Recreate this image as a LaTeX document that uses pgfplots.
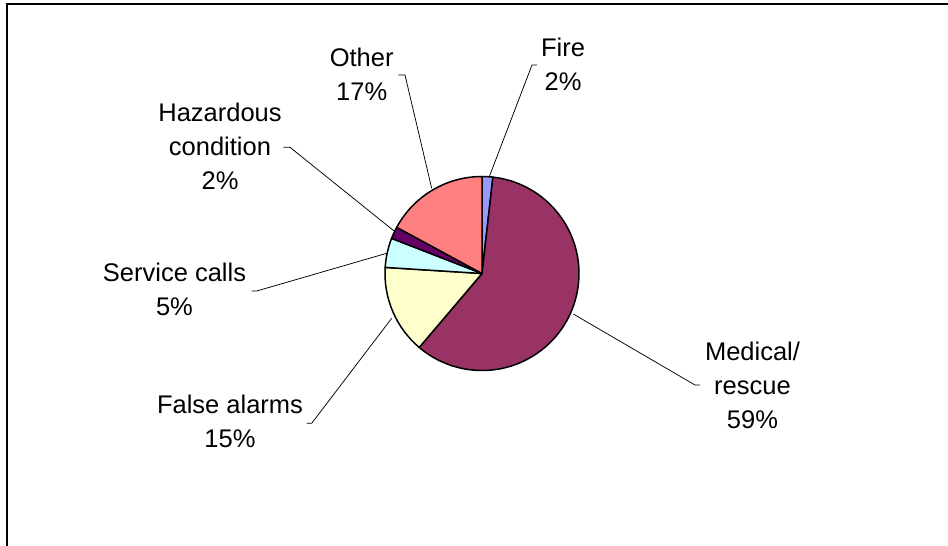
\documentclass[border=0pt]{standalone}
\usepackage{pgfplots}
\pgfplotsset{compat=1.18}
\usepackage{fontspec}
\setmainfont{Liberation Sans}
\definecolor{cFire}{HTML}{9999FF}
\definecolor{cMed}{HTML}{993366}
\definecolor{cFalse}{HTML}{FFFFCC}
\definecolor{cServ}{HTML}{CCFFFF}
\definecolor{cHaz}{HTML}{660066}
\definecolor{cOther}{HTML}{FF8080}
% slice: start percentage, share in percent, colour (clockwise from 12 o'clock)
\newcommand\slice[3]{%
  \filldraw[fill=#3, draw=black, line width=1.5bp, line join=round]
    (axis cs:482,272.5) -- ++({90-3.6*(#1)}:97bp)
    arc[start angle={90-3.6*(#1)}, end angle={90-3.6*((#1)+(#2))}, radius=97bp] -- cycle;}
\begin{document}
\begin{tikzpicture}
\begin{axis}[at={(0,0)}, anchor=south west, scale only axis,
  x=1bp, y=1bp, xmin=0, xmax=948, ymin=0, ymax=546, hide axis, clip=false]
% frame
\draw[line width=1.75bp] (axis cs:6.8,0) -- (axis cs:6.8,541.8) -- (axis cs:948,541.8);
% slices: Fire 1.8, Medical 59.4, False alarms 14.8, Service 4.9, Hazardous 2.0, Other 17.1
\slice{0}{1.8}{cFire}
\slice{1.8}{59.4}{cMed}
\slice{61.2}{14.8}{cFalse}
\slice{76.0}{4.9}{cServ}
\slice{80.9}{2.0}{cHaz}
\slice{82.9}{17.1}{cOther}
% leader lines
\begin{scope}[line width=0.75bp]
\draw (axis cs:489.3,369.3) -- (axis cs:532,481) -- (axis cs:537,481);
\draw (axis cs:431.7,357.7) -- (axis cs:405,471) -- (axis cs:398.3,471);
\draw (axis cs:395,314.3) -- (axis cs:290,398.7) -- (axis cs:283.3,398.7);
\draw (axis cs:386.7,292.7) -- (axis cs:256.7,255) -- (axis cs:251.7,255);
\draw (axis cs:391.7,227.7) -- (axis cs:311.7,122.7) -- (axis cs:306.7,122.7);
\draw (axis cs:573.3,232) -- (axis cs:695,161) -- (axis cs:700,161);
\end{scope}
% labels
\begin{scope}[every node/.style={align=center, inner sep=0pt,
   font=\fontsize{25.5bp}{34bp}\selectfont}]
\node at (axis cs:563,481.7) {Fire\\2\%};
\node at (axis cs:361.7,471.8) {Other\\17\%};
\node at (axis cs:220,399.3) {Hazardous\\condition\\2\%};
\node at (axis cs:174.5,257) {Service calls\\5\%};
\node at (axis cs:230,124.5) {False alarms\\15\%};
\node at (axis cs:752.5,161) {Medical/\\rescue\\59\%};
\end{scope}
\end{axis}
\pgfresetboundingbox
\path (0,0) rectangle (948bp,546bp);
\end{tikzpicture}
\end{document}
